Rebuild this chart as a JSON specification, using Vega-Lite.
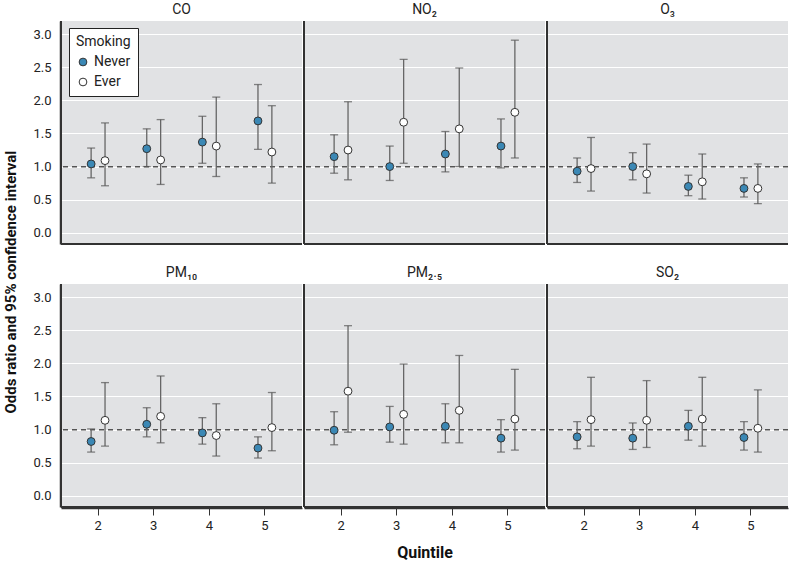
{
  "$schema": "https://vega.github.io/schema/vega-lite/v6.json",
  "padding": {"left": 3, "top": 3, "right": 5, "bottom": 2},
  "background": "white",
  "title": {"text": "Odds ratio and 95% confidence interval", "orient": "left", "anchor": "middle", "fontSize": 15, "fontWeight": "bold", "color": "#111", "offset": 14},
  "data": {"values": [
    {"pollutant":"CO","quintile":2,"smoking":"Never","or":1.04,"lo":0.83,"hi":1.28},
    {"pollutant":"CO","quintile":2,"smoking":"Ever","or":1.09,"lo":0.71,"hi":1.66},
    {"pollutant":"CO","quintile":3,"smoking":"Never","or":1.27,"lo":1.00,"hi":1.57},
    {"pollutant":"CO","quintile":3,"smoking":"Ever","or":1.10,"lo":0.73,"hi":1.71},
    {"pollutant":"CO","quintile":4,"smoking":"Never","or":1.37,"lo":1.05,"hi":1.76},
    {"pollutant":"CO","quintile":4,"smoking":"Ever","or":1.31,"lo":0.85,"hi":2.05},
    {"pollutant":"CO","quintile":5,"smoking":"Never","or":1.69,"lo":1.26,"hi":2.24},
    {"pollutant":"CO","quintile":5,"smoking":"Ever","or":1.22,"lo":0.75,"hi":1.92},
    {"pollutant":"NO₂","quintile":2,"smoking":"Never","or":1.15,"lo":0.90,"hi":1.48},
    {"pollutant":"NO₂","quintile":2,"smoking":"Ever","or":1.25,"lo":0.80,"hi":1.98},
    {"pollutant":"NO₂","quintile":3,"smoking":"Never","or":1.00,"lo":0.79,"hi":1.31},
    {"pollutant":"NO₂","quintile":3,"smoking":"Ever","or":1.67,"lo":1.05,"hi":2.62},
    {"pollutant":"NO₂","quintile":4,"smoking":"Never","or":1.19,"lo":0.92,"hi":1.53},
    {"pollutant":"NO₂","quintile":4,"smoking":"Ever","or":1.57,"lo":1.00,"hi":2.49},
    {"pollutant":"NO₂","quintile":5,"smoking":"Never","or":1.31,"lo":0.98,"hi":1.72},
    {"pollutant":"NO₂","quintile":5,"smoking":"Ever","or":1.82,"lo":1.13,"hi":2.91},
    {"pollutant":"O₃","quintile":2,"smoking":"Never","or":0.93,"lo":0.76,"hi":1.13},
    {"pollutant":"O₃","quintile":2,"smoking":"Ever","or":0.97,"lo":0.63,"hi":1.44},
    {"pollutant":"O₃","quintile":3,"smoking":"Never","or":1.00,"lo":0.80,"hi":1.21},
    {"pollutant":"O₃","quintile":3,"smoking":"Ever","or":0.89,"lo":0.60,"hi":1.34},
    {"pollutant":"O₃","quintile":4,"smoking":"Never","or":0.70,"lo":0.56,"hi":0.87},
    {"pollutant":"O₃","quintile":4,"smoking":"Ever","or":0.77,"lo":0.51,"hi":1.19},
    {"pollutant":"O₃","quintile":5,"smoking":"Never","or":0.67,"lo":0.54,"hi":0.83},
    {"pollutant":"O₃","quintile":5,"smoking":"Ever","or":0.67,"lo":0.44,"hi":1.04},
    {"pollutant":"PM₁₀","quintile":2,"smoking":"Never","or":0.82,"lo":0.66,"hi":1.01},
    {"pollutant":"PM₁₀","quintile":2,"smoking":"Ever","or":1.14,"lo":0.75,"hi":1.71},
    {"pollutant":"PM₁₀","quintile":3,"smoking":"Never","or":1.08,"lo":0.89,"hi":1.33},
    {"pollutant":"PM₁₀","quintile":3,"smoking":"Ever","or":1.20,"lo":0.80,"hi":1.81},
    {"pollutant":"PM₁₀","quintile":4,"smoking":"Never","or":0.95,"lo":0.78,"hi":1.18},
    {"pollutant":"PM₁₀","quintile":4,"smoking":"Ever","or":0.91,"lo":0.60,"hi":1.39},
    {"pollutant":"PM₁₀","quintile":5,"smoking":"Never","or":0.72,"lo":0.57,"hi":0.89},
    {"pollutant":"PM₁₀","quintile":5,"smoking":"Ever","or":1.03,"lo":0.68,"hi":1.56},
    {"pollutant":"PM₂.₅","quintile":2,"smoking":"Never","or":0.99,"lo":0.77,"hi":1.27},
    {"pollutant":"PM₂.₅","quintile":2,"smoking":"Ever","or":1.58,"lo":0.96,"hi":2.57},
    {"pollutant":"PM₂.₅","quintile":3,"smoking":"Never","or":1.04,"lo":0.81,"hi":1.35},
    {"pollutant":"PM₂.₅","quintile":3,"smoking":"Ever","or":1.23,"lo":0.78,"hi":1.99},
    {"pollutant":"PM₂.₅","quintile":4,"smoking":"Never","or":1.05,"lo":0.80,"hi":1.39},
    {"pollutant":"PM₂.₅","quintile":4,"smoking":"Ever","or":1.29,"lo":0.80,"hi":2.12},
    {"pollutant":"PM₂.₅","quintile":5,"smoking":"Never","or":0.87,"lo":0.66,"hi":1.15},
    {"pollutant":"PM₂.₅","quintile":5,"smoking":"Ever","or":1.16,"lo":0.69,"hi":1.91},
    {"pollutant":"SO₂","quintile":2,"smoking":"Never","or":0.89,"lo":0.71,"hi":1.12},
    {"pollutant":"SO₂","quintile":2,"smoking":"Ever","or":1.15,"lo":0.75,"hi":1.79},
    {"pollutant":"SO₂","quintile":3,"smoking":"Never","or":0.87,"lo":0.70,"hi":1.10},
    {"pollutant":"SO₂","quintile":3,"smoking":"Ever","or":1.14,"lo":0.73,"hi":1.74},
    {"pollutant":"SO₂","quintile":4,"smoking":"Never","or":1.05,"lo":0.84,"hi":1.29},
    {"pollutant":"SO₂","quintile":4,"smoking":"Ever","or":1.16,"lo":0.75,"hi":1.79},
    {"pollutant":"SO₂","quintile":5,"smoking":"Never","or":0.88,"lo":0.69,"hi":1.12},
    {"pollutant":"SO₂","quintile":5,"smoking":"Ever","or":1.02,"lo":0.66,"hi":1.60}
  ]},
  "facet": {
    "field": "pollutant", "type": "nominal",
    "sort": ["CO","NO₂","O₃","PM₁₀","PM₂.₅","SO₂"],
    "title": "Quintile",
    "header": {"labelFontSize": 14, "labelPadding": 3, "labelColor": "#222", "labelOrient": "top",
      "titleOrient": "bottom", "titleFontSize": 16, "titleFontWeight": "bold", "titleColor": "#111", "titlePadding": 13}
  },
  "columns": 3,
  "spacing": {"column": 0, "row": 21},
  "spec": {
    "width": 241,
    "height": 223,
    "encoding": {
      "x": {"field": "quintile", "type": "ordinal",
        "scale": {"paddingInner": 0, "paddingOuter": 0.1667},
        "axis": {"title": null, "labelAngle": 0}},
      "y": {"type": "quantitative",
        "scale": {"domain": [-0.17, 3.2], "nice": false, "zero": false},
        "axis": {"values": [0,0.5,1,1.5,2,2.5,3], "format": ".1f", "title": null}}
    },
    "layer": [
      {"mark": {"type": "rule", "color": "#555", "strokeDash": [5,4], "strokeWidth": 1}, "encoding": {"y": {"datum": 1}, "x": null}},
      {"mark": {"type": "rule", "color": "#333", "strokeWidth": 1.5}, "encoding": {"x": {"datum": 2, "type": "ordinal", "bandPosition": -0.1667}}},
      {"mark": {"type": "rule", "color": "#333", "strokeWidth": 1.5}, "encoding": {"y": {"datum": -0.17}, "x": null}},
      {"mark": {"type": "rule", "color": "#666", "strokeWidth": 1.3},
        "encoding": {"xOffset": {"field": "smoking", "type": "nominal", "sort": ["Never","Ever"], "scale": {"paddingInner": 0, "paddingOuter": 1}},
          "y": {"field": "lo"}, "y2": {"field": "hi"}}},
      {"mark": {"type": "tick", "color": "#555", "size": 8, "thickness": 1.3, "orient": "horizontal"},
        "encoding": {"xOffset": {"field": "smoking", "type": "nominal", "sort": ["Never","Ever"], "scale": {"paddingInner": 0, "paddingOuter": 1}},
          "y": {"field": "lo"}}},
      {"mark": {"type": "tick", "color": "#555", "size": 8, "thickness": 1.3, "orient": "horizontal"},
        "encoding": {"xOffset": {"field": "smoking", "type": "nominal", "sort": ["Never","Ever"], "scale": {"paddingInner": 0, "paddingOuter": 1}},
          "y": {"field": "hi"}}},
      {"mark": {"type": "point", "shape": "circle", "filled": true, "size": 62, "stroke": "#333", "strokeWidth": 1, "opacity": 1},
        "encoding": {"xOffset": {"field": "smoking", "type": "nominal", "sort": ["Never","Ever"], "scale": {"paddingInner": 0, "paddingOuter": 1}},
          "y": {"field": "or"},
          "fill": {"field": "smoking", "type": "nominal",
            "scale": {"domain": ["Never","Ever"], "range": ["#3b88b5","#ffffff"]},
            "legend": {"title": "Smoking", "orient": "none", "legendX": 8, "legendY": 7,
              "fillColor": "white", "strokeColor": "#222", "padding": 7,
              "titleFontSize": 14, "titleFontWeight": "normal", "titleColor": "#222", "labelFontSize": 14, "labelColor": "#222",
              "symbolSize": 60, "symbolStrokeColor": "#333", "symbolStrokeWidth": 1, "rowPadding": 6, "titlePadding": 6}}}}
    ]
  },
  "config": {
    "font": "Roboto",
    "view": {"fill": "#e1e2e4", "stroke": null},
    "axis": {"labelFontSize": 13, "labelColor": "#222", "titleFontSize": 15, "titleFontWeight": "bold", "titleColor": "#111",
      "domainColor": "#333", "domainWidth": 1.5, "tickColor": "#333", "gridColor": "#ffffff", "gridWidth": 1.2},
    "axisY": {"ticks": false, "grid": true, "labelPadding": 9, "domain": true},
    "axisX": {"tickSize": 7, "labelPadding": 4, "grid": false}
  }
}
